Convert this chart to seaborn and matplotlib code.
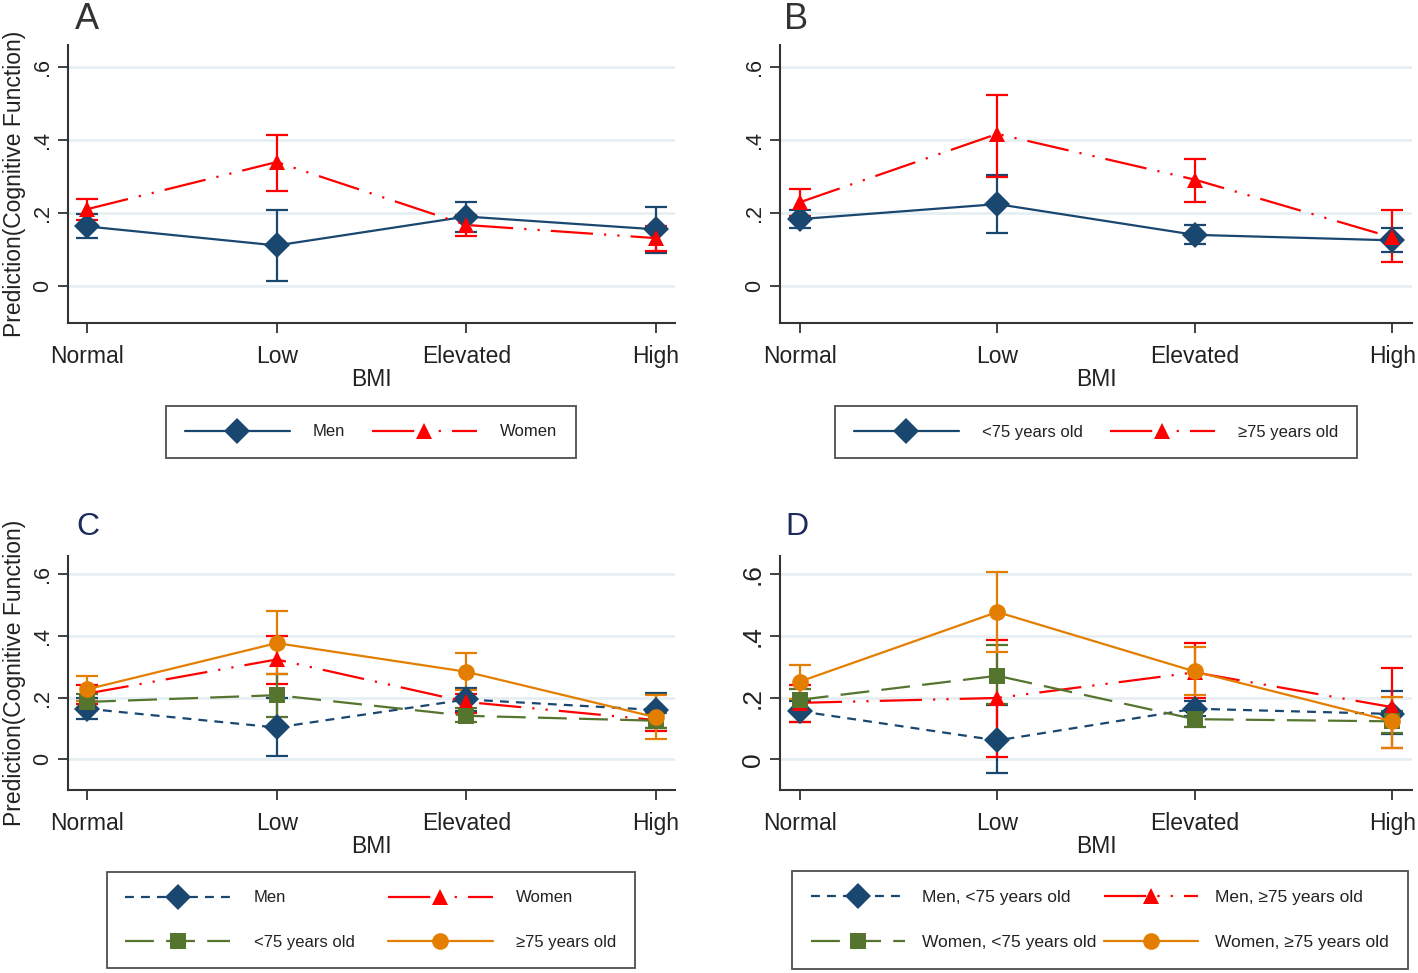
import numpy as np
import matplotlib
matplotlib.use("Agg")
import matplotlib.pyplot as plt
import seaborn as sns
from matplotlib.lines import Line2D

sns.set_style("white")
plt.rcParams['font.family'] = ['Liberation Sans', 'DejaVu Sans']

categories = ["Normal", "Low", "Elevated", "High"]
ytick_vals = [0, 0.2, 0.4, 0.6]
ytick_labels = ["0", ".2", ".4", ".6"]

# Panel A
a_men = [0.164, 0.112, 0.191, 0.156]
a_men_lo = [0.132, 0.014, 0.150, 0.091]
a_men_hi = [0.198, 0.209, 0.231, 0.218]
a_women = [0.211, 0.340, 0.168, 0.132]
a_women_lo = [0.182, 0.260, 0.139, 0.096]
a_women_hi = [0.238, 0.415, 0.195, 0.164]

# Panel B
b_young = [0.184, 0.225, 0.141, 0.126]
b_young_lo = [0.159, 0.147, 0.117, 0.094]
b_young_hi = [0.210, 0.305, 0.168, 0.160]
b_old = [0.230, 0.417, 0.292, 0.134]
b_old_lo = [0.192, 0.300, 0.232, 0.067]
b_old_hi = [0.267, 0.523, 0.349, 0.209]

# Panel C
c_men = [0.164, 0.103, 0.194, 0.160]
c_men_lo = [0.130, 0.012, 0.155, 0.100]
c_men_hi = [0.200, 0.200, 0.230, 0.215]
c_women = [0.213, 0.324, 0.186, 0.127]
c_women_lo = [0.180, 0.243, 0.150, 0.092]
c_women_hi = [0.240, 0.399, 0.212, 0.160]
c_young = [0.186, 0.208, 0.141, 0.125]
c_young_lo = [0.160, 0.136, 0.120, 0.100]
c_young_hi = [0.212, 0.277, 0.165, 0.150]
c_old = [0.227, 0.377, 0.284, 0.136]
c_old_lo = [0.188, 0.276, 0.224, 0.066]
c_old_hi = [0.269, 0.481, 0.344, 0.208]

# Panel D
d_men_young = [0.156, 0.061, 0.164, 0.147]
d_men_young_lo = [0.122, -0.046, 0.140, 0.081]
d_men_young_hi = [0.190, 0.175, 0.190, 0.222]
d_men_old = [0.183, 0.199, 0.282, 0.169]
d_men_old_lo = [0.122, 0.006, 0.200, 0.036]
d_men_old_hi = [0.240, 0.388, 0.377, 0.296]
d_women_young = [0.193, 0.271, 0.130, 0.123]
d_women_young_lo = [0.158, 0.178, 0.105, 0.086]
d_women_young_hi = [0.227, 0.370, 0.160, 0.155]
d_women_old = [0.252, 0.478, 0.285, 0.123]
d_women_old_lo = [0.197, 0.348, 0.208, 0.036]
d_women_old_hi = [0.307, 0.609, 0.366, 0.202]

NAVY = "#1a476f"
RED = "#ff0000"
GREEN = "#55752f"
ORANGE = "#e37e00"

SOLID = "-"
LDASHDOT = (0, (19, 5, 1, 5, 1, 5))
SHORTDASH = (0, (4, 3.2))
LONGDASH = (0, (13, 5.5))

MK = {"D": 13, "^": 12, "s": 11, "o": 12}

fig = plt.figure(figsize=(14.18, 9.73), dpi=100)

W, H = 1418, 973
def ax_rect(l, r, t, b):
    return [l / W, 1 - b / H, (r - l) / W, (b - t) / H]

xs = np.arange(len(categories))

def panel(rect, series, ylabel, letter, letter_pos, letter_color, letter_size, ytick_size):
    ax = fig.add_axes(rect)
    for vals, lo, hi, color, marker, ls, label in series:
        vals = np.array(vals); lo = np.array(lo); hi = np.array(hi)
        ax.errorbar(xs, vals, yerr=[vals - lo, hi - vals], fmt='none', ecolor=color,
                    elinewidth=1.6, capsize=8, capthick=1.6, zorder=3)
        sns.lineplot(x=xs, y=vals, ax=ax, color=color, marker=marker,
                     markersize=MK[marker], markeredgewidth=0, linestyle=ls,
                     linewidth=1.6, zorder=4)
    ax.set_xlim(-0.1, 3.1)
    ax.set_ylim(-0.1, 0.66)
    ax.set_xticks(xs)
    ax.set_xticklabels(categories, fontsize=16.5, color="#222222")
    ax.set_yticks(ytick_vals)
    ax.set_yticklabels(ytick_labels, fontsize=ytick_size, rotation=90, va='center', color="#222222")
    for y in ytick_vals:
        ax.axhline(y, color="#e6eff2", lw=2, zorder=0)
    ax.set_xlabel("BMI", fontsize=16.5, color="#222222", labelpad=0)
    if ylabel:
        ax.set_ylabel(ylabel, fontsize=16.5, color="#222222", labelpad=4)
    else:
        ax.set_ylabel("")
    for s in ["top", "right"]:
        ax.spines[s].set_visible(False)
    for s in ["left", "bottom"]:
        ax.spines[s].set_color("#333333")
        ax.spines[s].set_linewidth(1.5)
    ax.tick_params(axis='both', direction='out', length=7, width=1.3, color="#333333",
                   bottom=True, left=True, pad=4)
    ax.tick_params(axis='x', pad=9)
    ax.set_facecolor("white")
    fig.text(letter_pos[0] / W, 1 - letter_pos[1] / H, letter, fontsize=letter_size,
             color=letter_color, ha='left', va='top')
    return ax

def make_handles(series):
    hs = []
    for vals, lo, hi, color, marker, ls, label in series:
        hs.append(Line2D([], [], color=color, marker=marker, markersize=MK[marker],
                         markeredgewidth=0, linestyle=ls, linewidth=1.6, label=label))
    return hs

ser_a = [
    (a_men, a_men_lo, a_men_hi, NAVY, "D", SOLID, "Men"),
    (a_women, a_women_lo, a_women_hi, RED, "^", LDASHDOT, "Women"),
]
ser_b = [
    (b_young, b_young_lo, b_young_hi, NAVY, "D", SOLID, "<75 years old"),
    (b_old, b_old_lo, b_old_hi, RED, "^", LDASHDOT, "≥75 years old"),
]
ser_c = [
    (c_men, c_men_lo, c_men_hi, NAVY, "D", SHORTDASH, "Men"),
    (c_women, c_women_lo, c_women_hi, RED, "^", LDASHDOT, "Women"),
    (c_young, c_young_lo, c_young_hi, GREEN, "s", LONGDASH, "<75 years old"),
    (c_old, c_old_lo, c_old_hi, ORANGE, "o", SOLID, "≥75 years old"),
]
ser_d = [
    (d_men_young, d_men_young_lo, d_men_young_hi, NAVY, "D", SHORTDASH, "Men, <75 years old"),
    (d_men_old, d_men_old_lo, d_men_old_hi, RED, "^", LDASHDOT, "Men, ≥75 years old"),
    (d_women_young, d_women_young_lo, d_women_young_hi, GREEN, "s", LONGDASH, "Women, <75 years old"),
    (d_women_old, d_women_old_lo, d_women_old_hi, ORANGE, "o", SOLID, "Women, ≥75 years old"),
]

YL = "Prediction(Cognitive Function)"
panel(ax_rect(68, 675, 45, 323), ser_a, YL, "A", (75, 2), "#333333", 26, 15.5)
panel(ax_rect(780, 1412, 45, 323), ser_b, None, "B", (784, 2), "#333333", 26, 15.5)
panel(ax_rect(68, 675, 556, 790), ser_c, YL, "C", (76, 512), "#1c2a5e", 23, 15.5)
panel(ax_rect(780, 1412, 556, 790), ser_d, None, "D", (785, 512), "#1c2a5e", 23, 19)

def legend(series, center, ncol, colsp, fs, hl, htp):
    hs = make_handles(series)
    if len(hs) == 4:
        # row-wise order (matplotlib fills column by column)
        hs = [hs[0], hs[2], hs[1], hs[3]]
    leg = fig.legend(handles=hs, loc='center',
                     bbox_to_anchor=(center[0] / W, 1 - center[1] / H), ncol=ncol,
                     fontsize=fs, frameon=True, fancybox=False, edgecolor="#222222",
                     handlelength=hl, handletextpad=htp, columnspacing=colsp,
                     borderpad=1.1, labelspacing=1.75)
    leg.get_frame().set_linewidth(1.3)
    for t in leg.get_texts():
        t.set_color("#222222")
    return leg

legend(ser_a, (371, 432), 2, 1.6, 12, 6.3, 1.4)
legend(ser_b, (1096, 432), 2, 1.6, 12, 6.3, 1.4)
legend(ser_c, (371, 920), 2, 2.0, 12, 6.3, 1.4)
legend(ser_d, (1100, 920), 2, 0.4, 12.5, 5.4, 1.0)

fig.savefig("out.png", dpi=100, facecolor="white")
